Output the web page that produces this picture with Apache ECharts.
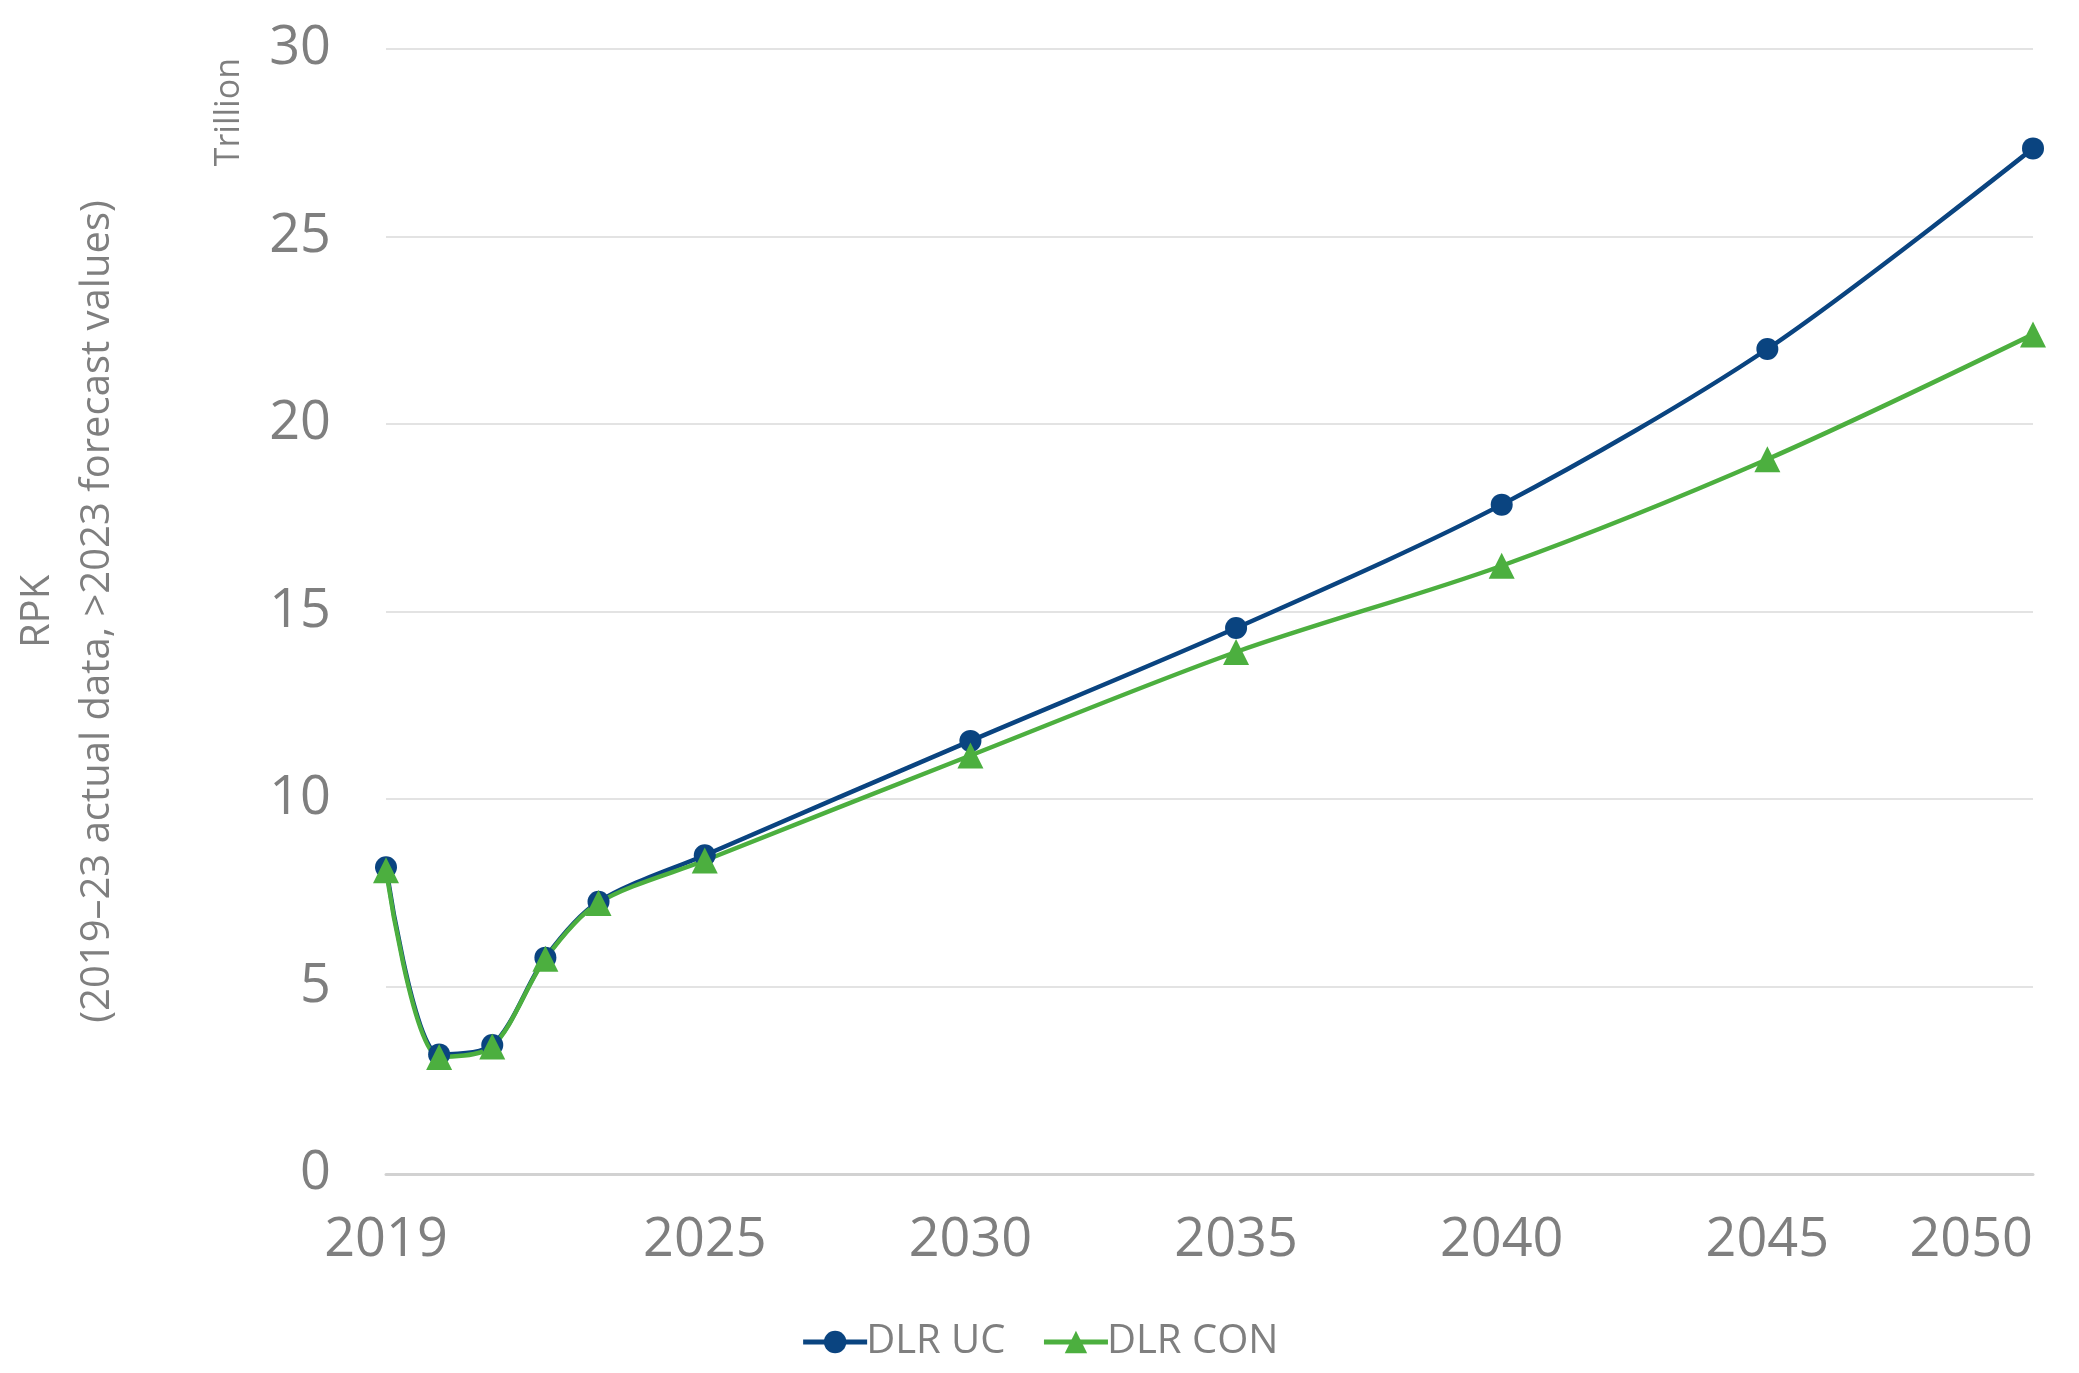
<!DOCTYPE html>
<html>
<head>
<meta charset="utf-8">
<script src="https://cdn.jsdelivr.net/npm/echarts@6/dist/echarts.min.js"></script>
<style>
html,body{margin:0;padding:0;background:#fff;}
#chart{width:2079px;height:1373px;}
</style>
</head>
<body>
<div id="chart"></div>
<script>
const years = [2019, 2020, 2021, 2022, 2023, 2025, 2030, 2035, 2040, 2045, 2050];
const dlrUC  = [8.18, 3.19, 3.44, 5.77, 7.26, 8.50, 11.55, 14.56, 17.85, 22.00, 27.35];
const dlrCON = [8.10, 3.12, 3.40, 5.74, 7.23, 8.36, 11.16, 13.92, 16.22, 19.06, 22.39];
const xTickLabels = [2019, 2025, 2030, 2035, 2040, 2045, 2050];
const seriesNames = ['DLR UC', 'DLR CON'];
const yTitle = 'RPK\n(2019\u201323 actual data, >2023 forecast values)';
const unitLabel = 'Trillion';

const FONT = '"Open Sans", sans-serif';
const GRAY = '#7f7f7f';
const BLUE = '#0a4480';
const GREEN = '#4caf3f';

const chart = echarts.init(document.getElementById('chart'), null, {renderer: 'canvas'});
chart.setOption({
  backgroundColor: '#ffffff',
  animation: false,
  grid: {left: 372, right: 46, top: 49, bottom: 199, containLabel: false},
  legend: {
    bottom: 6, left: 'center',
    itemWidth: 64, itemHeight: 28, itemGap: 36,
    lineStyle: {width: 5},
    textStyle: {fontFamily: FONT, fontSize: 40, color: GRAY, padding: [0, 0, 0, -6]},
    data: seriesNames
  },
  xAxis: {
    type: 'value', min: 2019, max: 2050,
    axisLine: {show: true, lineStyle: {color: '#d2d2d2', width: 3}},
    axisTick: {show: false},
    splitLine: {show: false},
    axisLabel: {
      customValues: xTickLabels,
      formatter: v => String(v),
      fontFamily: FONT, fontSize: 54, color: GRAY, margin: 40,
      alignMinLabel: 'center', alignMaxLabel: 'right'
    }
  },
  yAxis: {
    type: 'value', min: 0, max: 30, interval: 5,
    axisLine: {show: false}, axisTick: {show: false},
    splitLine: {lineStyle: {color: '#e3e3e3', width: 2}},
    axisLabel: {fontFamily: FONT, fontSize: 54, color: GRAY, margin: 55},
    name: yTitle, nameLocation: 'middle', nameGap: 258,
    nameTextStyle: {fontFamily: FONT, fontSize: 40, color: GRAY, lineHeight: 60, align: 'center'}
  },
  graphic: [{
    type: 'text', left: 212, top: 58, rotation: Math.PI / 2,
    style: {text: unitLabel, font: '34px ' + FONT, fill: GRAY}
  }],
  series: [
    {
      name: seriesNames[0], type: 'line', smooth: 0.3,
      data: years.map((y, i) => [y, dlrUC[i]]),
      symbol: 'circle', symbolSize: 22,
      lineStyle: {color: BLUE, width: 4.5}, itemStyle: {color: BLUE}
    },
    {
      name: seriesNames[1], type: 'line', smooth: 0.3,
      data: years.map((y, i) => [y, dlrCON[i]]),
      symbol: 'triangle', symbolSize: 26,
      lineStyle: {color: GREEN, width: 4.5}, itemStyle: {color: GREEN}
    }
  ]
});
</script>
</body>
</html>
